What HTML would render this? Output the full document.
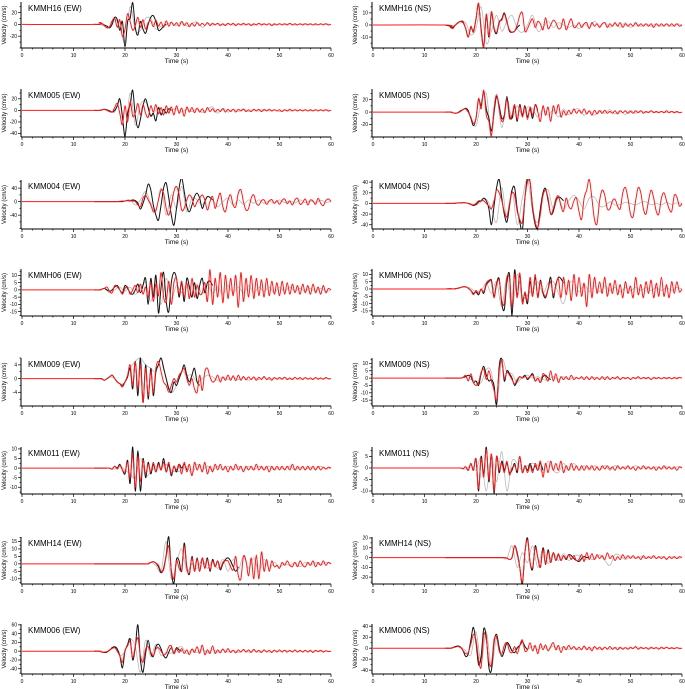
<!DOCTYPE html>
<html><head><meta charset="utf-8"><style>
html,body{margin:0;padding:0;background:#fff;}
svg{display:block;font-family:"Liberation Sans",sans-serif;}
</style></head><body>
<svg id="chart" width="685" height="689" viewBox="0 0 685 689"></svg>
<script>
// ---- data: velocity samples (cm/s). obs/syn start at t=15 s, step 0.5 s; alt start t=15 s, step 1 s
const stations = ["KMMH16 (EW)","KMM005 (EW)","KMM004 (EW)","KMMH06 (EW)","KMM009 (EW)","KMM011 (EW)","KMMH14 (EW)","KMM006 (EW)",
"KMMH16 (NS)","KMM005 (NS)","KMM004 (NS)","KMMH06 (NS)","KMM009 (NS)","KMM011 (NS)","KMMH14 (NS)","KMM006 (NS)"];
const xTicks = [0,10,20,30,40,50,60];
const yRanges = [[-40,38],[-46,37],[-81,64],[-18,14.4],[-8,6],[-13.5,11],[-13.5,18],[-52,62],
[-19,19],[-40,37],[-48,44],[-18.5,13.7],[-19,13.7],[-11.3,9.1],[-27,21],[-47,44]];
const yTickLabels = [[20,0,-20],[20,0,-20,-40],[40,0,-40],[10,5,0,-5,-10,-15],[4,0,-4],[10,5,0,-5,-10],[15,10,5,0,-5,-10],[60,40,20,0,-20,-40],
[10,0,-10],[20,0,-20],[40,20,0,-20,-40],[10,5,0,-5,-10,-15],[10,5,0,-5,-10,-15],[5,0,-5,-10],[20,10,0,-10,-20],[40,20,0,-20,-40]];

const ew1Obs=[0,1,-1,-3,-6,0,12,8,-10,5,-38,5,10,37,-5,-18,5,-8,-15,0,12,15,5,-10,-8,-3,0];
const ew1Syn=[3,2,-2,-6,-4,6,10,-5,8,-20,-8,18,5,-10,-2,12,-5,8,-8,3,6,-4,7,-3,4,-5,6,-3,4,-2,3,-3,5,-2,3,-4,2,-3,3,-2,2,-2,3,-2,2,-1,2,-2,1,-2,2,-1,2,-2,1,-1,2,-1,1,-2,1,-1,2,-1,1,-1,1,-2,1,-1,1,-1,1,-1,2,-1,1,-1,1,-1,1,-1,1,-1,1,-1,1,-1,1,-1,0];
const ew1Alt=[0,-3,-5,10,-5,-30,30,-10,-10,10,10,-8,-3,0,3,-2,5,-3,2,4,-5,2,-1,1,-1,1,-1,1,-1,1,-1,1,0,1,-1,1,0,1,-1,0,1,0,-1,0,1,0];

const ew2Obs=[0,1,2,1,-1,-3,0,8,20,-10,-45,-5,10,35,-10,-30,-15,8,20,5,-10,-5,-18,5,-8,2,-5,3,0];
const ew2Syn=[0,1,2,0,-2,-3,5,12,-5,-25,8,-20,15,-10,-5,12,-8,10,-5,-12,8,-3,10,-6,5,-8,8,-5,6,-8,8,-5,4,-10,6,-3,5,-4,4,-3,3,-4,5,-2,3,-3,2,-2,3,-3,2,-2,2,-3,2,-1,2,-2,1,-2,2,-1,2,-2,1,-1,2,-1,1,-1,1,-2,1,-1,2,-1,1,-1,1,-1,1,-1,1,-1,1,-1,1,-1,1,-1,0];
const ew2Alt=[0,1,0,-3,15,-40,30,-25,10,15,-10,0,-5,2,0,3,-3,2,-2,3,-4,2,6,-5,4,-3,2,-2,3,-2,1,-1,2,-1,1,-2,1,-1,1,0,1,-1,1,0,1,0];

const ew3Obs=[0,0,0,0,0,0,0,0,0,0,2,3,2,5,3,-5,-22,-5,20,52,35,-10,-40,-55,-10,40,55,10,-40,-70,-20,40,70,30,-15,-30,-10,15,25,10,-20,0,15,12,5];
const ew3Syn=[0,0,0,0,0,0,0,0,1,2,2,4,3,2,0,-10,-15,10,18,5,-10,-30,-25,5,35,25,-20,-40,-10,30,45,20,-25,-20,5,20,10,-15,0,10,20,5,-25,0,15,-20,5,25,-15,-30,5,20,-10,-15,25,35,0,-25,-20,10,20,-5,-10,3,5,-8,2,6,-5,3,-8,4,8,-6,2,-10,5,10,-8,-3,8,-10,5,2,-8,10,-5,-12,3,8,0];
const ew3Alt=[0,0,0,0,0,2,5,-10,5,30,-5,-30,40,-40,20,-20,45,-30,10,5,-10,15,5,-15,0,10,-10,5,-8,5,-5,5,-5,3,-5,5,-3,3,-4,5,-3,2,-3,4,-2,0];

const ew4Obs=[0,0.5,1,0,-1,0,2,3,0,-2,3,1,-2,-3,0,4,-2,3,8,-10,8,-5,10,-16,2,12,-8,-15,5,12,8,-5,5,-8,8,2,-5,5,-6,3,8,-2,5,6,3];
const ew4Syn=[0,0.5,1,2,-1,-2,3,2,0,-3,1,2,-3,0,3,-2,4,-3,2,-5,5,-8,4,-4,12,-5,-8,6,-10,5,8,-3,6,-5,5,-6,8,-5,3,-3,-2,5,-8,14,-10,8,-5,12,-9,10,-6,8,-4,10,-12,12,-8,8,-5,10,-6,8,-4,7,-5,8,-4,6,-3,5,-4,6,-3,5,-3,4,-2,3,-3,4,-2,3,-3,4,-2,2,-3,3,-2,1,0];
const ew4Alt=[0,1,-2,0,2,-1,2,-3,1,5,-8,6,-10,8,-6,3,-2,4,-2,4,-3,3,-2,2,-3,3,-2,2,-2,3,-2,2,-1,2,-2,2,-1,2,-1,1,-1,1,-1,1,-1,0];

const ew5Obs=[0,0,-0.5,0,0.5,1,0,-1,-1.5,-2,-1,0.5,3,-3,5,-5,6,-7,4,-6,3,-5,2,4,6,3,0,-3,-4,-1,-2,0,2,4,1,-1,1,3,-1,-2];
const ew5Syn=[0,0,-0.5,0,0.5,1,0,-1,-1.5,-2.5,-1,1,4,-2,5,-3,4,-7,3,-5,2,-4,3,5,2,-1,-2,-4,-2,0,-1,1,2,3,0,-2,0,-3,-4,1,-3.5,2,3,0.5,-1,-0.5,1,-1,0.5,-0.5,1,-0.5,0.8,-0.6,1,-0.5,0.6,-0.4,0.5,-0.3,0.5,-0.5,0.4,-0.3,0.6,-0.3,0.3,-0.5,0.3,-0.2,0.3,-0.2,0.4,-0.3,0.2,-0.3,0.4,-0.2,0.3,-0.3,0.3,-0.2,0.2,-0.3,0.3,-0.2,0.2,-0.2,0.3,-0.1,0];
const ew5Alt=[0,-0.5,0.5,0,-1.5,-1,3,5,6,4,3,2,6,0,-4,-2,2,1,1,-1,0,1,0.5,-0.5,0.5,-0.3,0.3,-0.3,0.3,-0.5,0.3,-0.2,0.3,-0.3,0.2,-0.2,0.3,-0.2,0.2,-0.2,0.2,-0.2,0.2,-0.1,0.1,0];

const ew6Obs=[0,0,0,0,0,-0.5,1,0,2,-1,-3,4,-8,11,-12,9,-12,5,-5,3,-3,2,-2,3,-1,5,-2,2,-4,1,-2,2,0,2,-1];
const ew6Syn=[0,0,0,0,0,-0.5,1,-0.5,1.5,-1,-2,3,-5,7,-10,6,-7,4,-3,2,-2,3,-2,2,-1,3,-2,3,-3,1,-1,2,-3,3,-2,2,-4,3,-1,2,-2,3,-3,1,-2,2,-1,2,-1,1,-2,1,-1,2,-1,1,-2,1,-1,1,-1,2,-1,1,-1,1,-2,1,-1,1,-1,1,-1,1,-1,2,-1,1,-1,1,-1,1,-1,1,-1,1,-1,0.5,-0.5,0.5,0];
const ew6Alt=[0,0,0,-0.5,1,-1,-3,-5,5,-4,-2,1,0,2,-1,-2,-1,1,-3,2,-1,1,-1,1,-1,1,-1,1,-1,1,-1,1,-1,1,-1,0.5,-0.5,1,-1,0.5,-0.5,0.5,-0.5,1,-0.5,0];

const ew7Obs=[0,0,0,0,0,0,0,0,0,0,0,0,0,0,0,0,0,0,0,0,1,1.5,0.5,-2,-6,-3,6,18,-5,-13,3,2,-5,14,-2,-7,5,-5,4,-5,4,-3,4,-5,3,-2,2,-4,0,3,4,2,-2,-5,-2];
const ew7Syn=[0,0,0,0,0,0,0,0,0,0,0,0,0,0,0,0,0,0,0,0,1,1.5,0.5,-1,-5,-4,5,12,-4,-10,2,-3,-4,12,-3,-6,4,-5,3,-5,4,-3,3,-4,2,-2,2,-3,1,2,2,-2,-4,5,-8,-10,5,2,-8,4,-10,6,-10,8,-5,3,-5,2,-2,-1,-3,1,-1,2,-1,-2,1,-2,2,-1,-2,1,-1,2,-2,1,-1,2,-1,1,0];
const ew7Alt=[0,0,0,0,0,0,0,0,0,0,1,-1,-5,15,-10,0,10,-5,0,-3,3,-3,2,-3,3,-5,3,-4,5,-3,4,-5,3,-3,1,-2,0,-1,1,-2,1,-1,1,-1,1,0];

const ew8Obs=[0,-2,-3,-2,2,8,10,5,-10,-38,0,15,28,-20,10,60,-20,-48,-5,25,-5,-12,10,16,5,-10,-15,-2,8,-5,8,3,0];
const ew8Syn=[0,-2,-2,-1,3,6,8,0,-10,-25,2,12,22,-15,12,30,-10,-25,5,10,-2,-10,5,8,0,-8,-5,10,12,-6,5,-3,6,-5,3,-8,5,-3,10,-5,14,-8,3,-5,12,-5,3,-4,5,-3,6,-3,2,-4,3,-2,4,-2,3,-3,4,-2,2,-3,3,-2,2,-3,2,-2,3,-2,2,-2,2,-2,3,-2,2,-2,2,-2,2,-3,2,-1,2,-2,1,-1,0];
const ew8Alt=[0,-3,2,10,-10,0,28,10,-48,25,-12,16,-10,-2,-5,5,10,-6,4,-3,5,-4,3,-2,3,-2,2,-3,2,-2,2,-2,2,-2,2,-1,2,-1,1,-1,1,-1,1,-1,1,0];

const ns1Obs=[-1,-2,0,2,3,2,-3,-10,-2,-5,5,17,-3,-18,8,-10,10,-3,-7,2,5,10,3,-5,-6,-5,-2,0];
const ns1Syn=[-2,-3,0,2,3,3,-3,-10,-1,-6,5,18,-5,-18,9,-9,11,-2,-6,3,4,9,2,-4,-6,-5,0,8,10,-5,-3,2,5,-2,3,1,-4,6,-3,0,4,2,-3,-2,5,-4,1,5,-2,-1,2,-2,1,2,-3,2,-1,1,-2,1,2,-2,1,-1,2,-1,2,-2,1,-1,1,-1,2,-1,1,-1,1,-1,1,-2,1,-1,1,-1,1,-1,1,-1,1,-1,0];
const ns1Alt=[-1,0,2,2,-8,-3,15,-15,-5,8,-5,3,8,-3,-6,0,8,-5,-2,3,-2,2,0,-2,0,-3,1,-2,3,-1,2,-2,1,-2,2,-2,1,-1,1,-1,1,-1,1,-1,1,0];

const ns2Obs=[0,-1,-2,-1,2,4,6,2,-10,-22,-10,20,10,33,5,-10,-30,0,25,10,-10,-5,25,-5,-10,10,-15,12,-5,10,-8,5,-10,12,2];
const ns2Syn=[0,-1,-2,-1,1,4,5,0,-8,-18,-10,22,5,35,-5,-15,-38,5,28,5,-15,-8,20,-10,-5,12,-12,10,-8,8,-12,8,-5,12,0,-15,10,-5,8,-15,10,-3,12,-8,2,-5,3,-3,5,-2,3,-2,5,-3,2,-5,3,-3,2,-2,3,-2,1,-2,2,-3,2,-1,2,-2,1,-2,2,-1,2,-2,1,-1,2,-1,1,-1,1,-1,2,-1,1,-1,1,-1,0];
const ns2Alt=[0,-2,2,5,-10,-22,15,30,-35,25,-25,20,-10,10,-5,8,5,-8,5,-5,3,-8,5,-4,3,5,-5,2,-5,3,-2,4,-3,2,-4,3,-2,2,-1,2,-1,1,-1,1,-1,0];

const ns3Obs=[0,0,0.5,1,1,1.5,1,0,-2,-4,-2,3,5,10,5,-10,-40,-5,30,45,10,-20,-35,-5,25,30,-10,-35,-50,10,48,40,-10,-40,-45,-10,20,28,5,-20,-15,5,12,10,5];
const ns3Syn=[0,0,0.5,1,1,1.5,1,0,-2,-3,0,5,5,5,0,-5,-10,5,25,20,5,-15,-25,0,20,15,-15,-30,-35,10,40,40,-5,-35,-45,-20,15,25,10,-20,-10,8,14,-5,-15,10,-5,-10,5,10,-15,-30,10,25,45,10,-30,-38,5,25,15,-10,-10,5,8,-5,-10,20,30,10,-20,-25,5,30,20,-10,-20,5,25,10,-15,-20,10,20,5,-10,-15,15,12,-5,0];
const ns3Alt=[0,0.5,1,1,0,-3,3,8,-10,-35,30,-30,25,-40,10,45,-15,-35,15,25,-10,10,-10,5,15,5,-10,10,12,-5,-5,3,-3,-2,2,0,-3,2,3,-3,0,-3,2,-2,1,0];

const ns4Obs=[0.3,0,0.2,0.5,1,1.5,1.5,0.5,-1,-3,-2,-4,0,-3,3,5,6,-5,4,7,-10,-14,5,10,-18,13,-5,10,-8,-3,-10,5,-5,8,-5,6,-3,-6,0,8,-6,3,8,7,4];
const ns4Syn=[0.3,0,0.2,0.5,1,1.5,1.5,0.5,-1,-4,-1,-3,0,-2,4,6,5,-6,3,6,-8,-10,8,7,-12,10,-6,11,-10,-2,-8,8,-5,10,-6,5,-2,-5,0,5,-4,2,7,-6,8,-4,6,-8,10,-5,8,-5,4,-12,10,-6,8,-3,5,-3,8,-5,4,-3,6,-4,3,-6,5,-3,2,-6,8,-4,3,-6,5,-3,6,-6,4,-5,8,-5,3,-6,5,-3,5,-2,0];
const ns4Alt=[0,0.5,1,1.5,0.5,-2,-1,4,-3,5,-12,8,-14,10,-6,-4,0,5,-3,4,5,-3,-10,3,5,-2,3,-2,2,-2,2,-1,1,-2,1,-1,1,-1,1,-1,1,-1,1,-1,1,0];

const ns5Obs=[0,0,0,0,0,0.5,1,2,1,-3,-2,-5,3,8,2,-2,-1,-5,-18,8,13,-2,5,3,0,-5,-2,1,0,2,-1,1,3,-2,0,-3,1,2,0,-1];
const ns5Syn=[0,0,0,0,0,0.5,2,-2,3,-3,-5,-3,4,6,-1,5,-2,-8,-15,5,12,0,4,2,-1,-4,-1,1,0,1,0,1,2,-2,0,-3,3,1,-2,5,-2,3,-3,1,-1,1,-1,2,-1,0.5,-0.5,1,-1,1,-1,1,-1,0.5,-1,1,-1,1,-1,0.5,-0.5,1,-1,0.5,-0.5,0.5,-1,0.5,-0.5,1,-0.5,0.5,-0.5,0.5,-1,0.5,-0.5,0.5,-0.5,0.5,-0.5,0.5,-0.5,0.5,-0.5,0.5,0];
const ns5Alt=[0,0,0,0.5,-1,-2,-3,6,4,-18,12,4,3,-3,1,2,0,1,-1,-1,1,-1,1,-1,0.5,-0.5,0.5,-0.5,0.5,-0.5,0.5,-0.5,0.5,-0.5,0.5,-0.5,0.5,-0.5,0.5,-0.5,0.5,-0.5,0.5,-0.5,0.5,0];

const ns6Obs=[0,0,0,0,0,-0.3,0.5,-1,2,-1,4,-10,5,-3,9,-6,6,-11,5,-2,3,-1,2,-2,-1,2,-2,5,-2,1,-1,2,-1,1,-1,2,-1];
const ns6Syn=[0,0,0,0,0,-0.3,0.5,-1,2,-1,4,-9,4,-4,8,-5,6,-10,5,-1,2,-2,3,-3,0,1,-1,5,-2,1,-2,1,-2,2,-1,3,-4,2,-2,3,-1,2,-1,3,-2,1,-1,2,-1,1,-1,1,-1,1,-0.5,1,-1,0.5,-1,1,-0.5,1,-0.5,0.5,-1,1,-0.5,0.5,-0.5,1,-0.5,0.5,-1,0.5,-0.5,1,-0.5,0.5,-0.5,0.5,-1,0.5,-0.5,1,-0.5,0.5,-0.5,0.5,-1,0.5,0];
const ns6Alt=[0,0,0,-0.5,1,-1,4,-10,5,-6,7,-10,3,2,-1,1,2,1,-2,3,-1,-2,2,-1,2,-1,1,-1,1,-1,1,-1,1,-0.5,0.5,-0.5,1,-0.5,0.5,-0.5,0.5,-0.5,0.5,-0.5,0.5,0];

const ns7Obs=[0,0,0,0,0,0,0,0,0,0,0,0,0,0,0,0,0,0,0,0,0,0,-0.5,-2,0,12,5,-10,-27,5,20,-5,-12,12,0,-10,10,-7,8,-5,5,-3,3,-3,2,-2,3,2,-1,-3,-4,-1,1,0,1];
const ns7Syn=[0,0,0,0,0,0,0,0,0,0,0,0,0,0,0,0,0,0,0,0,0,0,-0.5,-2,0,12,3,-10,-25,5,18,-5,-10,10,0,-10,8,-6,6,-5,5,-3,4,-3,2,-1,3,-2,2,-3,-2,3,-4,5,-2,4,-2,3,-1,2,-2,5,-1,2,-3,1,-2,3,-1,2,-1,2,-1,1,-2,2,-1,1,-1,2,-1,1,-1,1,-2,1,-1,1,-1,1,0];
const ns7Alt=[0,0,0,0,0,0,0,0,0,0,0,-1,12,-10,5,-5,12,-10,10,-6,5,-3,4,-3,2,2,-2,-1,-2,3,-3,-8,3,2,-2,1,-1,1,-1,1,-1,1,-1,1,-1,0];

const ns8Obs=[0,1,3,4,2,-5,-15,-10,15,38,10,-30,-15,35,20,-35,-40,10,25,0,-15,-5,10,5,-5,-8,0,5,12,3,-3];
const ns8Syn=[0,1,2,3,1,-4,-10,-8,8,25,15,-20,-35,25,15,-25,-30,15,20,-5,-10,5,10,-5,-8,3,-10,5,15,-5,-3,10,-5,5,-10,8,-3,6,-5,3,10,-3,5,-8,3,-3,5,-2,3,-3,2,-3,4,-3,2,-5,3,-2,2,-3,2,-2,3,-2,1,-3,2,-2,1,-2,2,-1,3,-2,2,-1,1,-2,2,-1,1,-2,2,-1,2,-1,1,-1,1,-1,0];
const ns8Alt=[0,3,2,-5,-12,30,-25,30,-35,20,-15,8,-5,2,8,-2,4,-3,3,-3,4,-2,3,-2,2,-3,2,-2,2,-2,1,-2,2,-1,1,-1,1,-1,1,-1,1,-1,1,-1,1,0];

const obsSeries=[ew1Obs,ew2Obs,ew3Obs,ew4Obs,ew5Obs,ew6Obs,ew7Obs,ew8Obs,ns1Obs,ns2Obs,ns3Obs,ns4Obs,ns5Obs,ns6Obs,ns7Obs,ns8Obs];
const synSeries=[ew1Syn,ew2Syn,ew3Syn,ew4Syn,ew5Syn,ew6Syn,ew7Syn,ew8Syn,ns1Syn,ns2Syn,ns3Syn,ns4Syn,ns5Syn,ns6Syn,ns7Syn,ns8Syn];
const altSeries=[ew1Alt,ew2Alt,ew3Alt,ew4Alt,ew5Alt,ew6Alt,ew7Alt,ew8Alt,ns1Alt,ns2Alt,ns3Alt,ns4Alt,ns5Alt,ns6Alt,ns7Alt,ns8Alt];
const seriesStart=15, obsStep=0.5, altStep=1;

// ---- layout
const rowTops=[2,89,180,269,358,447,537,624];
const rowBottoms=[48,137,229,316,406,494,584,674];
const colX0=[22,373], colX1=[331,682];
const NS="http://www.w3.org/2000/svg";
const svg=document.getElementById('chart');
function mk(tag,attrs,parent){const e=document.createElementNS(NS,tag);for(const k in attrs)e.setAttribute(k,attrs[k]);(parent||svg).appendChild(e);return e;}
function smoothPath(P){
  let d='M'+P[0][0].toFixed(1)+','+P[0][1].toFixed(1);
  for(let i=0;i<P.length-1;i++){
    const p0=P[Math.max(0,i-1)],p1=P[i],p2=P[i+1],p3=P[Math.min(P.length-1,i+2)];
    const c1x=p1[0]+(p2[0]-p0[0])/6,c1y=p1[1]+(p2[1]-p0[1])/6;
    const c2x=p2[0]-(p3[0]-p1[0])/6,c2y=p2[1]-(p3[1]-p1[1])/6;
    d+=' C'+c1x.toFixed(1)+','+c1y.toFixed(1)+' '+c2x.toFixed(1)+','+c2y.toFixed(1)+' '+p2[0].toFixed(1)+','+p2[1].toFixed(1);
  }
  return d;
}

for(let p=0;p<16;p++){
  const col=p<8?0:1,row=p%8;
  const x0=colX0[col],x1=colX1[col],top=rowTops[row],bot=rowBottoms[row];
  const [ymin,ymax]=yRanges[p];
  const xs=t=>x0+(t/60)*(x1-x0);
  const ys=v=>bot-(v-ymin)/(ymax-ymin)*(bot-top);
  const g=mk('g',{});
  
  
  const clip=mk('clipPath',{id:'c'+p},g);
  mk('rect',{x:x0,y:top-1,width:x1-x0+1,height:bot-top+1},clip);
  function line(arr,step,color,w,name,lead){
    const P=lead?[[xs(0),ys(0)],[xs(seriesStart-1),ys(0)]]:[[xs(seriesStart-1),ys(0)]];
    arr.forEach((v,i)=>{P.push([xs(seriesStart+i*step),ys(v)]);});
    const l=mk('path',{d:smoothPath(P),fill:'none',stroke:color,'stroke-width':w,'stroke-linejoin':'round','clip-path':'url(#c'+p+')'},g);
    
    
  }
  line(altSeries[p],altStep,'#b8b8b8',0.8,'alt-trace',false);
  line(obsSeries[p],obsStep,'#111111',1.0,'observed-trace',false);
  line(synSeries[p],obsStep,'#ff1a1a',1.0,'synthetic-trace',true);
  const ya=mk('line',{x1:x0-1,y1:top,x2:x0-1,y2:bot,stroke:'#000','stroke-width':1},g);
  
  
  const xa=mk('line',{x1:x0-1,y1:bot,x2:x1,y2:bot,stroke:'#000','stroke-width':1},g);
  
  
  for(let t=0;t<=60;t+=2){
    mk('line',{x1:xs(t),y1:bot,x2:xs(t),y2:bot+(t%10===0?3:1.5),stroke:'#000','stroke-width':0.7},g);
  }
  xTicks.forEach(t=>{
    const tx=mk('text',{x:xs(t),y:bot+9,'font-size':5,'text-anchor':'middle',fill:'#000'},g);
    tx.textContent=t;
    
    
  });
  const xt=mk('text',{x:(x0+x1)/2,y:bot+15,'font-size':6.5,'text-anchor':'middle',fill:'#000'},g);
  xt.textContent='Time (s)';
  
  
  const labs=yTickLabels[p];
  const stepY=labs.length>1?Math.abs(labs[0]-labs[1]):10;
  for(let v=Math.ceil(ymin/(stepY/2))*(stepY/2);v<=ymax;v+=stepY/2){
    const major=labs.indexOf(v)>=0;
    mk('line',{x1:x0-1,y1:ys(v),x2:x0-1-(major?3:1.5),y2:ys(v),stroke:'#000','stroke-width':0.7},g);
  }
  labs.forEach(v=>{
    const ty=mk('text',{x:x0-5,y:ys(v)+1.7,'font-size':5,'text-anchor':'end',fill:'#000'},g);
    ty.textContent=v;
    
    
  });
  const yt=mk('text',{x:0,y:0,'font-size':6,'text-anchor':'middle',fill:'#000',transform:'translate('+(x0-16)+','+((top+bot)/2)+') rotate(-90)'},g);
  yt.textContent='Velocity (cm/s)';
  
  
  const st=mk('text',{x:x0+6,y:top+9,'font-size':8,fill:'#000'},g);
  st.textContent=stations[p];
  
  
}
</script>
</body></html>
